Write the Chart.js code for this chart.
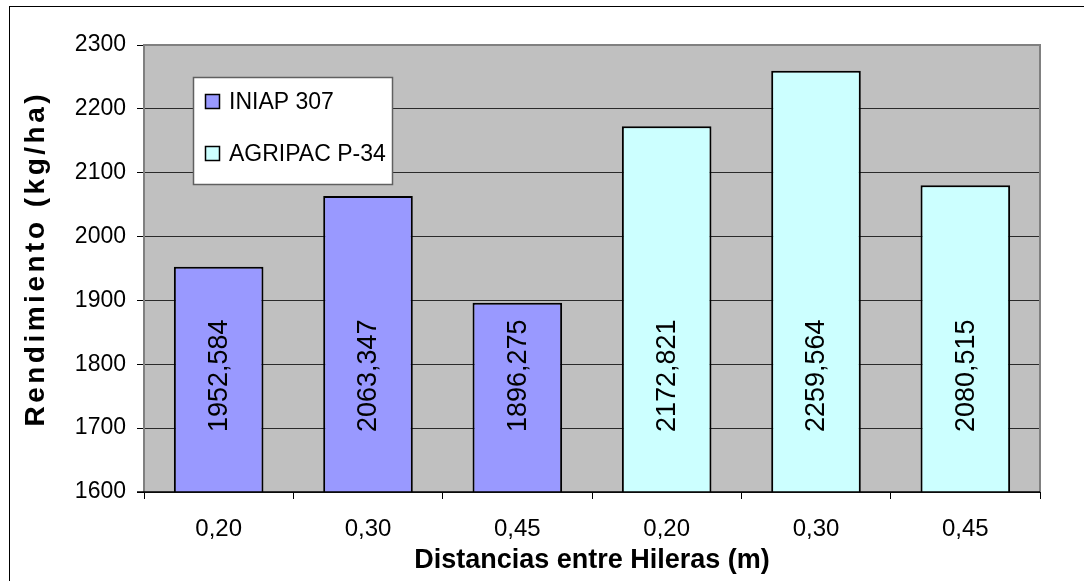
<!DOCTYPE html>
<html>
<head>
<meta charset="utf-8">
<script src="https://cdn.jsdelivr.net/npm/chart.js@4.4.0/dist/chart.umd.min.js"></script>
<style>
  html, body { margin: 0; padding: 0; background: #fff; }
  #wrap { width: 1084px; height: 581px; position: relative; }
</style>
</head>
<body>
<div id="wrap"><canvas id="c" width="1084" height="581"></canvas></div>
<script>
const categories = ['0,20', '0,30', '0,45', '0,20', '0,30', '0,45'];
const seriesNames = ['INIAP 307', 'AGRIPAC P-34'];
const iniapValues = [1952.584, 2063.347, 1896.275, null, null, null];
const agripacValues = [null, null, null, 2172.821, 2259.564, 2080.515];
const yTicks = [1600, 1700, 1800, 1900, 2000, 2100, 2200, 2300];
const seriesColors = ['#9999FF', '#CCFFFF'];
const yTitle = 'Rendimiento (kg/ha)';
const xTitle = 'Distancias entre Hileras (m)';
const labelCenterValue = 1782;

const FONT = "'Liberation Sans', Arial, sans-serif";

function fmt(v) {
  return v.toFixed(3).replace('.', ',');
}

const framePlugin = {
  id: 'frame',
  beforeDraw(chart) {
    const ctx = chart.ctx, a = chart.chartArea;
    ctx.save();
    ctx.fillStyle = '#ffffff';
    ctx.fillRect(0, 0, chart.width, chart.height);
    ctx.strokeStyle = '#000000';
    ctx.lineWidth = 1;
    ctx.strokeRect(9.5, 6.5, 1200, 700);
    ctx.fillStyle = '#C0C0C0';
    ctx.fillRect(a.left, a.top, a.right - a.left, a.bottom - a.top);
    ctx.restore();
  },
  afterDatasetsDraw(chart) {
    const ctx = chart.ctx, a = chart.chartArea;
    ctx.save();
    // plot frame (gray)
    ctx.strokeStyle = '#808080';
    ctx.lineWidth = 2;
    ctx.beginPath();
    ctx.moveTo(a.left, a.bottom);
    ctx.lineTo(a.left, a.top);
    ctx.lineTo(a.right, a.top);
    ctx.lineTo(a.right, a.bottom);
    ctx.stroke();
    // bottom axis line
    ctx.strokeStyle = '#000000';
    ctx.lineWidth = 1.5;
    ctx.beginPath();
    ctx.moveTo(a.left - 7, a.bottom);
    ctx.lineTo(a.right, a.bottom);
    ctx.stroke();

    // data labels, rotated
    const yScale = chart.scales.y;
    ctx.fillStyle = '#000000';
    ctx.font = '27px ' + FONT;
    ctx.textAlign = 'center';
    ctx.textBaseline = 'middle';
    chart.data.datasets.forEach((ds, di) => {
      const meta = chart.getDatasetMeta(di);
      meta.data.forEach((bar, i) => {
        const v = ds.data[i];
        if (v === null || v === undefined) return;
        const y = yScale.getPixelForValue(labelCenterValue);
        ctx.save();
        ctx.translate(bar.x, y);
        ctx.rotate(-Math.PI / 2);
        ctx.fillText(fmt(v), 0, 1);
        ctx.restore();
      });
    });

    // legend box
    const lx = 193.5, ly = 77.5, lw = 199, lh = 107;
    ctx.fillStyle = '#ffffff';
    ctx.fillRect(lx, ly, lw, lh);
    ctx.strokeStyle = '#606060';
    ctx.lineWidth = 1.5;
    ctx.strokeRect(lx, ly, lw, lh);
    const rowY = [101.5, 153.5];
    ctx.font = '23px ' + FONT;
    ctx.textAlign = 'left';
    ctx.textBaseline = 'middle';
    chart.data.datasets.forEach((ds, di) => {
      ctx.fillStyle = ds.backgroundColor;
      ctx.fillRect(205.5, rowY[di] - 7, 14, 14);
      ctx.strokeStyle = '#000000';
      ctx.lineWidth = 1.5;
      ctx.strokeRect(205.5, rowY[di] - 7, 14, 14);
      ctx.fillStyle = '#000000';
      ctx.fillText(ds.label, 229, rowY[di] + 1);
    });

    // y-axis title (spaced, rotated)
    ctx.save();
    ctx.translate(35, (a.top + a.bottom) / 2 - 8);
    ctx.rotate(-Math.PI / 2);
    ctx.font = 'bold 28px ' + FONT;
    ctx.fillStyle = '#000000';
    ctx.textAlign = 'center';
    ctx.textBaseline = 'middle';
    try { ctx.letterSpacing = '3.5px'; } catch (e) {}
    ctx.fillText(yTitle, 1.75, 1);
    ctx.restore();

    ctx.restore();
  }
};

new Chart(document.getElementById('c'), {
  type: 'bar',
  data: {
    labels: categories,
    datasets: [
      { label: seriesNames[0], data: iniapValues, backgroundColor: seriesColors[0],
        borderColor: '#000000', borderWidth: 2, borderSkipped: false },
      { label: seriesNames[1], data: agripacValues, backgroundColor: seriesColors[1],
        borderColor: '#000000', borderWidth: 2, borderSkipped: false }
    ]
  },
  options: {
    responsive: false,
    animation: false,
    devicePixelRatio: 1,
    grouped: false,
    categoryPercentage: 1,
    barPercentage: 0.6,
    layout: { padding: { left: 0, top: 45, right: 44, bottom: 0 } },
    plugins: {
      legend: { display: false },
      tooltip: { enabled: false }
    },
    scales: {
      x: {
        grid: { display: true, drawOnChartArea: false, drawTicks: true, tickLength: 7,
                color: '#000000', offset: true, lineWidth: 1 },
        border: { display: false },
        ticks: { color: '#000000', font: { family: FONT, size: 24 }, padding: 16, maxRotation: 0 },
        title: { display: true, text: xTitle, color: '#000000',
                 font: { family: FONT, size: 27, weight: 'bold' }, padding: { top: 0, bottom: 4 } },
        afterFit(s) { s.height = 89; }
      },
      y: {
        min: 1600, max: 2300,
        afterBuildTicks(s) { s.ticks = yTicks.map(v => ({ value: v })); },
        grid: { color: '#2a2a2a', lineWidth: 1, tickLength: 7, tickColor: '#000000' },
        border: { display: false },
        ticks: { color: '#000000', font: { family: FONT, size: 23 }, padding: 11,
                 callback: (v) => String(v) },
        title: { display: false },
        afterFit(s) { s.width = 144; }
      }
    }
  },
  plugins: [framePlugin]
});
</script>
</body>
</html>
